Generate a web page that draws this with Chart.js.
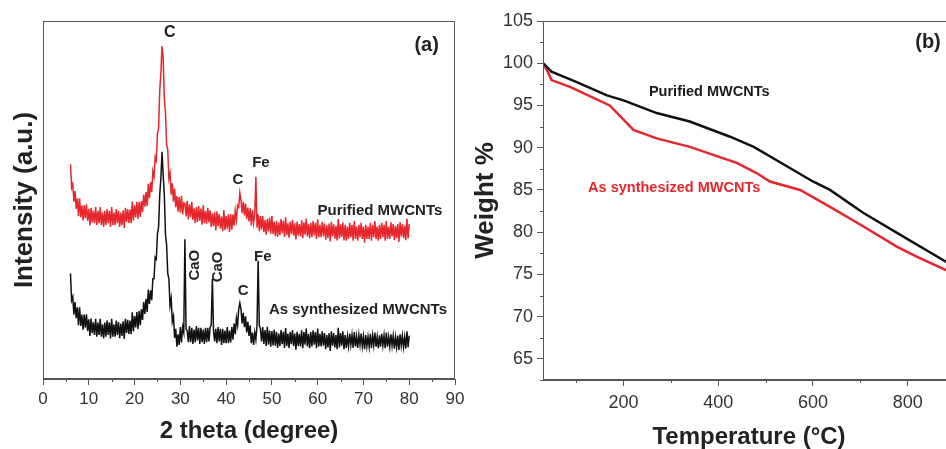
<!DOCTYPE html>
<html>
<head>
<meta charset="utf-8">
<title>XRD and TGA of MWCNTs</title>
<script src="https://cdn.jsdelivr.net/npm/chart.js@4.4.0/dist/chart.umd.min.js"></script>
<style>
  html, body { margin: 0; padding: 0; background: #fff; overflow: hidden; width: 946px; height: 449px; }
  .panel { position: absolute; top: 0; height: 449px; }
  #panelA { left: 0; width: 470px; }
  #panelB { left: 470px; width: 500px; }
</style>
</head>
<body>
<div class="panel" id="panelA"><canvas id="xrdChart"></canvas></div>
<div class="panel" id="panelB"><canvas id="tgaChart"></canvas></div>
<script>
// ---- (a) XRD patterns, read every 0.25 degree from 6 to 80 (one row = 5 degrees) ----
const thetaStart = 6;
const thetaStep = 0.25;

const purifiedXrd = [
  60, 53.5, 54.5, 49.5, 52.5, 47.5, 50.5, 45.5, 50.5, 45.2, 48.5, 44.3, 48.5, 44.9, 48.8, 44.2, 47.5, 42.9, 47.8, 43.7,
  47, 43.5, 48, 43, 47, 43.5, 48, 43, 46.5, 42.5, 47, 43, 47.5, 43.5, 47, 42.5, 48, 43, 46.5, 43,
  47.5, 43.5, 47, 42.5, 46.5, 43, 47.1, 42.2, 47.8, 43.9, 47.5, 43.6, 47.3, 43.5, 49.6, 44.3, 48.5, 45.2, 49.5, 44.7,
  49.5, 45.3, 49.7, 46.6, 51.5, 48.1, 52.2, 48.3, 54.5, 50.5, 55, 52.2, 58, 56.5, 62, 61, 68.5, 70, 80.5, 85.5,
  93, 89.5, 78.5, 74.5, 65.5, 64, 56, 57.5, 51.5, 54.7, 49.5, 53.2, 48, 51.1, 46.7, 50.8, 46.5, 51.2, 46, 49.2,
  49, 45.4, 49.8, 44.6, 48.8, 45.2, 49.5, 44.4, 47.7, 43.6, 48, 43.9, 48.3, 44.2, 47.6, 43.1, 48.5, 43.5, 46.9, 43.4,
  47.8, 43.7, 47.1, 42.5, 46.3, 42.7, 46.6, 41.5, 46.8, 42.7, 46.1, 42, 45.4, 41.3, 47.2, 41.6, 45.5, 42, 46, 41.1,
  46, 41.7, 46, 42.8, 47, 44.5, 48.5, 48, 52, 50, 46.3, 49.5, 45.7, 49, 44.7, 47.9, 44, 47.7, 42.9, 47.2,
  43.5, 45.8, 56.5, 42.3, 46, 41.3, 45.5, 41.8, 45.5, 41, 44.4, 40.3, 44.7, 41.2, 45.1, 40.6, 45.5, 40.5, 43.9, 39.9,
  44.2, 39.7, 43.7, 40.2, 44.7, 40.7, 44.2, 39.7, 45.2, 40.2, 43.5, 39.5, 44, 40.5, 44.5, 40, 43.5, 39, 44, 40,
  43.3, 39.8, 44.3, 39.3, 43.8, 40.3, 44.8, 39.8, 43.3, 39.3, 43.6, 39.6, 44.1, 40.1, 43.6, 39.1, 44.6, 39.6, 43.1, 39.6,
  43.9, 39.9, 43.4, 38.9, 42.9, 39.4, 43.4, 38.4, 43.9, 39.9, 43.2, 39.2, 42.7, 38.7, 44.7, 39.2, 43.2, 39.7, 43.7, 38.7,
  43.1, 38.6, 42.6, 39.1, 43.6, 39.6, 43.1, 38.6, 44.1, 39.1, 42.6, 38.6, 43.1, 39.6, 43.6, 39.1, 42.6, 38.1, 43.1, 39.1,
  42.6, 39.1, 43.6, 38.6, 43.1, 39.6, 44.1, 39.1, 42.6, 38.6, 43.1, 39.1, 43.6, 39.6, 43.1, 38.6, 44.1, 39.1, 42.6, 39.1,
  43.8, 39.8, 43.3, 38.8, 42.8, 39.3, 43.3, 38.3, 43.8, 39.8, 43.3, 39.3, 42.8, 38.8, 44.8, 39.3, 43.3
];

const synthesizedXrd = [
  29.5, 22, 23, 18, 21.5, 17, 20, 15, 20, 14.8, 18, 13.8, 18, 14.3, 18.1, 13.4, 16.7, 12, 16.9, 12.8,
  15.8, 12.3, 16.8, 11.8, 15.8, 12.3, 16.8, 11.8, 15.3, 11.3, 15.8, 11.8, 16.3, 12.3, 15.8, 11.3, 16.8, 11.8, 15.3, 11.8,
  16.3, 12.3, 15.9, 11.4, 15.5, 12, 16.1, 11.2, 16.8, 12.9, 16.5, 12.6, 16.3, 12.5, 18.6, 13.3, 17.6, 14.4, 18.7, 14,
  19, 15, 19.5, 16.5, 21.5, 18.2, 22.4, 18.7, 25, 21, 24.8, 22, 28, 28, 34, 33.5, 40.5, 42.5, 51.5, 56,
  63.5, 57, 51.5, 40.5, 37.5, 29.5, 28, 20.5, 22.5, 16, 17.5, 11.5, 14, 9, 12.5, 9.5, 14.5, 10.2, 14.5, 13,
  39, 14, 13.5, 10.3, 14.8, 10.3, 14.3, 9.8, 13.8, 10.3, 14.8, 10.8, 14.3, 9.8, 14.3, 10.3, 13.8, 9.8, 14.3, 10.3,
  14.3, 10.5, 14.5, 15, 28, 13.5, 10.5, 14, 10, 14.5, 10.5, 14, 9.5, 14, 10, 13.5, 10, 14.5, 10, 13.5,
  10.2, 14.5, 11, 15.5, 12.5, 17, 15, 19.5, 21.2, 19.5, 15.5, 18.5, 14.5, 17.5, 13, 16, 12, 15, 10, 13,
  9.5, 13, 11, 15, 33, 15, 14, 10.5, 14.5, 9.8, 13.7, 9.2, 14.6, 9.6, 13.5, 9, 13.4, 9.4, 13.8, 9.3,
  13.2, 8.7, 12.7, 9.2, 13.7, 9.7, 13.2, 8.7, 14.2, 9.2, 12.7, 8.7, 13.2, 9.7, 13.7, 9.2, 12.7, 8.2, 13.2, 9.2,
  12.6, 9.1, 13.6, 8.6, 13.1, 9.6, 14.1, 9.1, 12.6, 8.6, 13.1, 9.1, 13.6, 9.6, 13.1, 8.6, 14.1, 9.1, 12.6, 9.1,
  13.3, 9.3, 12.8, 8.3, 12.3, 8.8, 12.8, 7.8, 13.3, 9.3, 12.8, 8.8, 12.3, 8.3, 14.3, 8.8, 12.8, 9.3, 13.3, 8.3,
  12.3, 8.7, 11.9, 9.1, 12.7, 9.5, 12.3, 8.7, 13.1, 9.1, 11.9, 8.7, 12.3, 9.5, 12.7, 9.1, 11.9, 8.3, 12.3, 9.1,
  11.8, 9, 12.6, 8.6, 12.2, 9.4, 13, 9, 11.8, 8.6, 12.2, 9, 12.6, 9.4, 12.2, 8.6, 13, 9, 11.8, 9,
  12.5, 9.3, 12.1, 8.5, 11.7, 8.9, 12.1, 8.1, 12.5, 9.3, 12.1, 8.9, 11.7, 8.5, 13.3, 8.9, 12.1
];

const thetaTicks = [0, 10, 20, 30, 40, 50, 60, 70, 80, 90];
const thetaMinorTicks = [5, 15, 25, 35, 45, 55, 65, 75, 85];

// ---- (b) TGA curves ----
const purifiedTemp = [30, 48, 100, 165, 200, 270, 340, 425, 475, 545, 600, 636, 706, 790, 881, 900];
const purifiedWeight = [100, 99, 97.8, 96.2, 95.6, 94.1, 93.1, 91.3, 90.1, 87.8, 86.0, 85.0, 82.3, 79.5, 76.5, 75.9];

const synthesizedTemp = [30, 40, 48, 87, 171, 221, 270, 340, 439, 481, 509, 573, 636, 706, 777, 819, 881, 900];
const synthesizedWeight = [100, 99, 98, 97.2, 95, 92.1, 91.1, 90.1, 88.2, 87, 86, 85, 83, 80.7, 78.3, 77.1, 75.5, 74.9];

const tempTicks = [200, 400, 600, 800];
const tempMinorTicks = [100, 300, 500, 700, 900];
const weightTicks = [65, 70, 75, 80, 85, 90, 95, 100, 105];
const weightMinorTicks = [62.5, 67.5, 72.5, 77.5, 82.5, 87.5, 92.5, 97.5, 102.5];

const FONT = "'Liberation Sans', Arial, sans-serif";
const AXIS = '#555';
const RED = '#e5262c';
const BLACK = '#111';

// draws the box round the plot and the short minor ticks
const framePlugin = {
    id: 'frame',
    afterDraw(chart, args, opts) {
        const { ctx, chartArea: a } = chart;
        ctx.save();
        ctx.strokeStyle = opts.color;
        ctx.lineWidth = 1;
        ctx.strokeRect(a.left + 0.5, a.top + 0.5, a.width - 1, a.height - 1);
        ctx.beginPath();
        (opts.minorX || []).forEach(v => {
            const px = Math.round(chart.scales.x.getPixelForValue(v)) + 0.5;
            ctx.moveTo(px, a.bottom);
            ctx.lineTo(px, a.bottom + 3);
        });
        (opts.minorY || []).forEach(v => {
            const py = Math.round(chart.scales.y.getPixelForValue(v)) + 0.5;
            ctx.moveTo(a.left, py);
            ctx.lineTo(a.left - 3, py);
        });
        ctx.stroke();
        ctx.restore();
    }
};

// text labels placed in data coordinates
const labelPlugin = {
    id: 'notes',
    afterDatasetsDraw(chart, args, opts) {
        const ctx = chart.ctx;
        (opts.items || []).forEach(it => {
            const px = chart.scales.x.getPixelForValue(it.x);
            const py = chart.scales.y.getPixelForValue(it.y);
            ctx.save();
            ctx.translate(px, py);
            if (it.rotate) ctx.rotate(it.rotate);
            ctx.font = 'bold ' + it.size + 'px ' + FONT;
            ctx.fillStyle = it.color || '#222';
            ctx.textAlign = 'center';
            ctx.textBaseline = 'middle';
            ctx.fillText(it.text, 0, 0);
            ctx.restore();
        });
    }
};

function toPoints(values) {
    return values.map((v, i) => ({ x: thetaStart + i * thetaStep, y: v }));
}

function pairPoints(xs, ys) {
    return xs.map((x, i) => ({ x: x, y: ys[i] }));
}

// (a) XRD
new Chart(document.getElementById('xrdChart'), {
    type: 'line',
    data: {
        datasets: [
            { data: toPoints(synthesizedXrd), borderColor: BLACK, borderWidth: 1.5, pointRadius: 0, tension: 0 },
            { data: toPoints(purifiedXrd), borderColor: RED, borderWidth: 1.5, pointRadius: 0, tension: 0 }
        ]
    },
    options: {
        responsive: true,
        maintainAspectRatio: false,
        animation: false,
        layout: { padding: { top: 21, right: 15, left: 0, bottom: 0 } },
        plugins: {
            legend: { display: false },
            tooltip: { enabled: false },
            frame: { color: AXIS, minorX: thetaMinorTicks },
            notes: {
                items: [
                    { text: 'C', x: 27.7, y: 96.9, size: 16 },
                    { text: '(a)', x: 83.8, y: 93.3, size: 20 },
                    { text: 'C', x: 42.6, y: 55.6, size: 15 },
                    { text: 'Fe', x: 47.6, y: 60.3, size: 15 },
                    { text: 'Purified MWCNTs', x: 73.6, y: 46.9, size: 15 },
                    { text: 'CaO', x: 33.2, y: 31.8, size: 15, rotate: -Math.PI / 2 },
                    { text: 'CaO', x: 38.2, y: 31.3, size: 15, rotate: -Math.PI / 2 },
                    { text: 'Fe', x: 48.0, y: 34.1, size: 15 },
                    { text: 'C', x: 43.7, y: 24.6, size: 15 },
                    { text: 'As synthesized MWCNTs', x: 68.8, y: 19.3, size: 15 }
                ]
            }
        },
        scales: {
            x: {
                type: 'linear',
                min: 0,
                max: 90,
                afterBuildTicks: s => { s.ticks = thetaTicks.map(v => ({ value: v })); },
                afterFit: s => { s.height = 70; },
                grid: { drawOnChartArea: false, drawTicks: true, tickLength: 6, color: AXIS },
                border: { display: true, color: AXIS },
                ticks: { color: '#333', font: { family: FONT, size: 17 }, padding: 4, maxRotation: 0, autoSkip: false },
                title: {
                    display: true, text: '2 theta (degree)', color: '#222',
                    font: { family: FONT, size: 24, weight: 'bold', lineHeight: 1.2 },
                    padding: { top: 0, bottom: 3 }
                }
            },
            y: {
                type: 'linear',
                min: 0,
                max: 100,
                afterFit: s => { s.width = 43; },
                grid: { display: false },
                border: { display: true, color: AXIS },
                ticks: { display: false },
                title: {
                    display: true, text: 'Intensity (a.u.)', color: '#222',
                    font: { family: FONT, size: 26, weight: 'bold', lineHeight: 1.2 },
                    padding: { top: 9, bottom: 0 }
                }
            }
        }
    },
    plugins: [framePlugin, labelPlugin]
});

// (b) TGA
new Chart(document.getElementById('tgaChart'), {
    type: 'line',
    data: {
        datasets: [
            { data: pairPoints(purifiedTemp, purifiedWeight), borderColor: BLACK, borderWidth: 2.5, pointRadius: 0, tension: 0 },
            { data: pairPoints(synthesizedTemp, synthesizedWeight), borderColor: RED, borderWidth: 2.5, pointRadius: 0, tension: 0 }
        ]
    },
    options: {
        responsive: true,
        maintainAspectRatio: false,
        animation: false,
        layout: { padding: { top: 21, right: 15, left: 0, bottom: 0 } },
        plugins: {
            legend: { display: false },
            tooltip: { enabled: false },
            frame: { color: AXIS, minorX: tempMinorTicks, minorY: weightMinorTicks },
            notes: {
                items: [
                    { text: '(b)', x: 843, y: 102.4, size: 20 },
                    { text: 'Purified MWCNTs', x: 381, y: 96.6, size: 14.5, color: '#1a1a1a' },
                    { text: 'As synthesized MWCNTs', x: 307, y: 85.2, size: 14.5, color: RED }
                ]
            }
        },
        scales: {
            x: {
                type: 'linear',
                min: 30,
                max: 900,
                afterBuildTicks: s => { s.ticks = tempTicks.map(v => ({ value: v })); },
                afterFit: s => { s.height = 69; },
                grid: { drawOnChartArea: false, drawTicks: true, tickLength: 6, color: AXIS },
                border: { display: true, color: AXIS },
                ticks: { color: '#333', font: { family: FONT, size: 18 }, padding: 6, maxRotation: 0, autoSkip: false },
                title: {
                    display: true, text: 'Temperature (°C)', color: '#222',
                    font: { family: FONT, size: 24, weight: 'bold', lineHeight: 1 },
                    padding: { top: 0, bottom: 0 }
                }
            },
            y: {
                type: 'linear',
                min: 62.5,
                max: 105,
                afterBuildTicks: s => { s.ticks = weightTicks.map(v => ({ value: v })); },
                afterFit: s => { s.width = 73; },
                grid: { drawOnChartArea: false, drawTicks: true, tickLength: 6, color: AXIS },
                border: { display: true, color: AXIS },
                ticks: { color: '#333', font: { family: FONT, size: 18 }, padding: 4, autoSkip: false },
                title: {
                    display: true, text: 'Weight %', color: '#222',
                    font: { family: FONT, size: 26, weight: 'bold', lineHeight: 1.2 },
                    padding: { top: 0, bottom: 0 }
                }
            }
        }
    },
    plugins: [framePlugin, labelPlugin]
});
</script>
</body>
</html>
